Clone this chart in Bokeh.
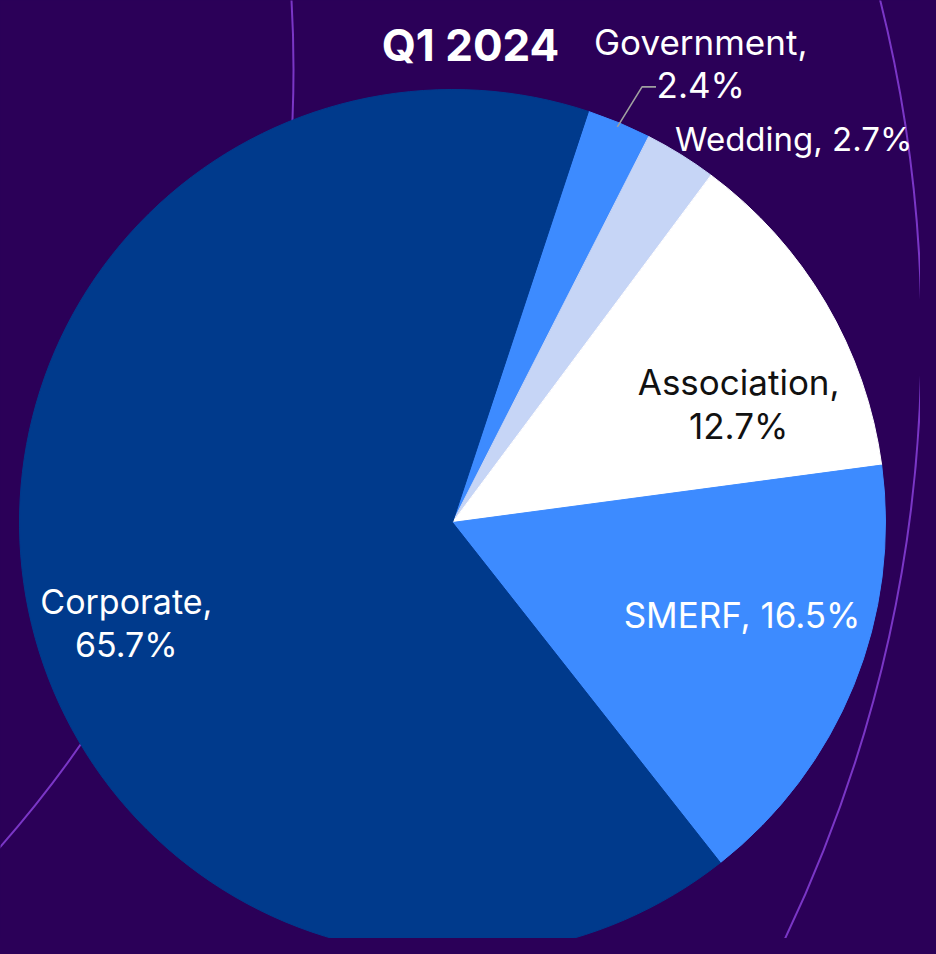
import math
from bokeh.plotting import figure
from bokeh.models import Range1d, ColumnDataSource
from bokeh.core.properties import value
from bokeh.embed import file_html
from bokeh.resources import INLINE

# ---- data ----
categories = ["Government", "Wedding", "Association", "SMERF", "Corporate"]
shares = [2.4, 2.7, 12.7, 16.5, 65.7]
title_text = "Q1 2024"

# ---- styles / layout ----
BG = "#2b0058"
FONT = "Inter"
slice_colors = ["#3d8bff", "#c6d5f6", "#ffffff", "#3d8bff", "#003a8c"]
label_colors = ["#ffffff", "#ffffff", "#111111", "#ffffff", "#ffffff"]
label_sizes = ["35px", "33px", "35px", "35px", "34px"]
label_align = ["center", "right", "center", "center", "center"]
two_line = [True, False, True, False, True]
# label anchor (first-line baseline) relative to slice mid-angle:
# (angle offset in degrees, radius as fraction of pie radius)
label_polar = [(-4.68, 1.250), (-18.36, 1.383), (-4.38, 0.736), (4.38, 0.702), (3.64, 0.775)]
START_COMPASS = 18.3  # degrees clockwise from north where first slice starts

W, H = 920, 938
IMG_H = 954
def Y(img_y):
    return IMG_H - img_y

cx, cy, R = 452, Y(522), 433

p = figure(width=W, height=H, output_backend="svg", toolbar_location=None,
           x_range=Range1d(0, W), y_range=Range1d(IMG_H - H, IMG_H),
           min_border=0, x_axis_type=None, y_axis_type=None)
p.grid.visible = False
p.outline_line_color = None
p.background_fill_color = BG
p.border_fill_color = BG

# decorative background rings
p.circle(x=[-471, -884], y=[Y(337), Y(69)], radius=[1392, 1177],
         fill_color=None, line_color="#7a36c6", line_width=2)

# pie slices
total = sum(shares)
starts, ends, mids = [], [], []
c = START_COMPASS
for s in shares:
    span = 360.0 * s / total
    c0, c1 = c, c + span
    starts.append(math.radians(90 - c1))
    ends.append(math.radians(90 - c0))
    mids.append(90 - (c0 + c1) / 2)
    c = c1

src = ColumnDataSource(dict(start=starts, end=ends, color=slice_colors))
p.wedge(x=cx, y=cy, radius=R, start_angle="start", end_angle="end",
        fill_color="color", line_color="color", line_width=1, source=src)

# labels
LINE_GAP = 43.5
cols = dict(x=[], y=[], text=[], color=[], size=[], align=[])
def add(x, y, t, col, sz, al):
    cols["x"].append(x); cols["y"].append(y); cols["text"].append(t)
    cols["color"].append(col); cols["size"].append(sz); cols["align"].append(al)

for cat, sh, mid, (da, rf), col, tl, sz, al in zip(categories, shares, mids, label_polar,
                                                  label_colors, two_line, label_sizes, label_align):
    a = math.radians(mid + da)
    lx = cx + R * rf * math.cos(a)
    ly = cy + R * rf * math.sin(a)
    if tl:
        add(lx, ly, f"{cat},", col, sz, al)
        add(lx, ly - LINE_GAP, f"{sh}%", col, sz, al)
    else:
        add(lx, ly, f"{cat}, {sh}%", col, sz, al)

lab_src = ColumnDataSource(cols)
p.text(x="x", y="y", text="text", text_color="color", text_font=value(FONT),
       text_font_size="size", text_align="align", text_baseline="alphabetic",
       source=lab_src)

# leader line for Government
gm = math.radians(mids[0])
x0, y0 = cx + 0.99 * R * math.cos(gm), cy + 0.99 * R * math.sin(gm)
x1, y1 = cx + 1.09 * R * math.cos(gm) + 8, cy + 1.09 * R * math.sin(gm)
p.line(x=[x0, x1, x1 + 14], y=[y0, y1, y1], line_color="#a0a0a0", line_width=1.6)

# title
p.text(x=[470], y=[Y(44.3)], text=[title_text], text_color="#ffffff",
       text_font=value(FONT), text_font_style="bold", text_font_size="44px",
       text_align="center", text_baseline="alphabetic")

html = file_html(p, INLINE)
html = html.replace("</head>", f"<style>html,body{{background:{BG};}}</style></head>", 1)
open("out.html", "w").write(html)
